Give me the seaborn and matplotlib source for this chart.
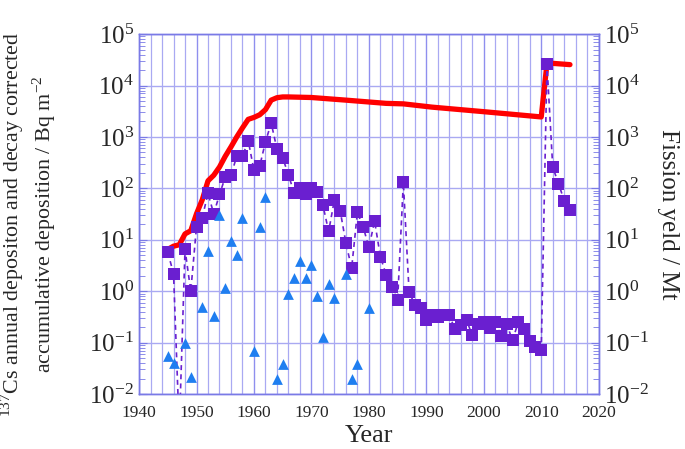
import numpy as np
import pandas as pd
import matplotlib
matplotlib.use("Agg")
import matplotlib.pyplot as plt
import matplotlib.ticker as mticker
import seaborn as sns

# annual 137Cs deposition (Bq m-2), 1947 is below the axis range
dep_years = list(range(1945, 2016))
dep_values = [
    5.7, 2.2, 0.002, 6.5, 1.0, 18, 27, 80, 32, 76,
    165, 180, 420, 420, 850, 225, 270, 800, 1870, 580,
    390, 185, 80, 100, 78, 100, 85, 47, 14.5, 60,
    37, 8.7, 2.8, 34, 18, 7.1, 23, 4.7, 2.1, 1.2,
    0.66, 130, 0.96, 0.55, 0.48, 0.27, 0.35, 0.32, 0.35, 0.34,
    0.18, 0.22, 0.27, 0.14, 0.23, 0.25, 0.19, 0.25, 0.135, 0.23,
    0.11, 0.25, 0.18, 0.105, 0.083, 0.073, 25700, 260, 124, 58,
    38,
]

# decay corrected accumulative deposition (Bq m-2)
acc_years = [1945, 1946, 1947, 1948, 1949, 1950, 1951, 1952, 1953, 1954,
             1955, 1956, 1957, 1958, 1959, 1960, 1961, 1962, 1963, 1964,
             1965, 1966, 1970, 1976, 1983, 1986, 1991, 2000, 2010, 2011,
             2012, 2015]
acc_values = [6.5, 7.5, 8, 13, 15, 32, 60, 140, 180, 260,
              420, 640, 1000, 1500, 2200, 2400, 2700, 3400, 5200, 5800,
              6000, 6000, 5850, 5200, 4500, 4400, 3800, 3100, 2450, 27000,
              27000, 25500]

# fission yield of atmospheric tests (Mt)
fy_years = [1945, 1946, 1948, 1949, 1951, 1952, 1953, 1954, 1955, 1956,
            1957, 1958, 1960, 1961, 1962, 1964, 1965, 1966, 1967, 1968,
            1969, 1970, 1971, 1972, 1973, 1974, 1976, 1977, 1978, 1980]
fy_values = [0.055, 0.04, 0.096, 0.021, 0.5, 6, 0.33, 30, 1.15, 9.6,
             5.1, 26, 0.069, 17.5, 69, 0.02, 0.039, 0.9, 1.8, 3.9,
             1.8, 3.2, 0.8, 0.126, 1.4, 0.73, 2.2, 0.02, 0.039, 0.48]

dep = pd.DataFrame({"year": dep_years, "value": dep_values})
acc = pd.DataFrame({"year": acc_years, "value": acc_values})
fy = pd.DataFrame({"year": fy_years, "value": fy_values})

sns.set_style("white")
plt.rcParams["font.family"] = ["Liberation Serif", "DejaVu Serif"]
plt.rcParams["mathtext.fontset"] = "custom"
plt.rcParams["mathtext.rm"] = "Liberation Serif"
plt.rcParams["axes.unicode_minus"] = False

grid_col = "#a9a9f2"
spine_col = "#7a7ae6"

fig = plt.figure(figsize=(6.85, 4.49), dpi=100)
ax = fig.add_axes([0.203, 0.1225, 0.671, 0.8015])
ax2 = ax.twinx()

for a in (ax, ax2):
    a.set_yscale("log")
    a.set_ylim(1e-2, 1e5)
    a.set_xlim(1940, 2020)
    for s in a.spines.values():
        s.set_color(spine_col)
        s.set_linewidth(1.0)

sns.lineplot(data=acc, x="year", y="value", ax=ax, color="#ff0000",
             linewidth=3.8, zorder=3)
sns.lineplot(data=dep, x="year", y="value", ax=ax, color="#6a1fd0",
             linewidth=1.2, linestyle=(0, (3, 2.5)), marker="s",
             markersize=8, markeredgewidth=0, zorder=4)
sns.scatterplot(data=fy, x="year", y="value", ax=ax2, color="#1f7ef0",
                marker="^", s=60, linewidth=0, zorder=4)

ax.xaxis.set_major_locator(mticker.MultipleLocator(10))
ax.xaxis.set_minor_locator(mticker.MultipleLocator(2))
ax.grid(True, which="major", axis="x", color="#8f8fee", linewidth=1.0)
ax.grid(True, which="minor", axis="x", color=grid_col, linewidth=0.9)
ax.grid(True, which="major", axis="y", color=grid_col, linewidth=1.0)
ax.set_axisbelow(True)

decades = [10.0 ** k for k in range(-2, 6)]
minors = [m * 10.0 ** k for k in range(-2, 5) for m in range(2, 10)]
for a in (ax, ax2):
    a.yaxis.set_major_locator(mticker.FixedLocator(decades))
    a.yaxis.set_minor_locator(mticker.FixedLocator(minors))
    a.yaxis.set_minor_formatter(mticker.NullFormatter())
    a.tick_params(axis="y", which="both", direction="in", color=spine_col, labelsize=18)
    a.tick_params(axis="y", which="major", length=6)
    a.tick_params(axis="y", which="minor", length=4)
ax.tick_params(axis="x", which="both", direction="in", length=0, labelsize=12.5, pad=8)

ax.set_xlabel("Year", fontsize=19, labelpad=3)
ax.set_ylabel("$^{137}$Cs annual depositon and decay corrected\naccumulative deposition / Bq m$^{-2}$",
              fontsize=15.8, linespacing=1.2)
ax.yaxis.set_label_coords(-0.176, 0.471)
ax2.set_ylabel("Fission yeld / Mt", fontsize=18, rotation=270, labelpad=22)
ax2.set_xlabel("")

fig.savefig("out.png", dpi=100)
